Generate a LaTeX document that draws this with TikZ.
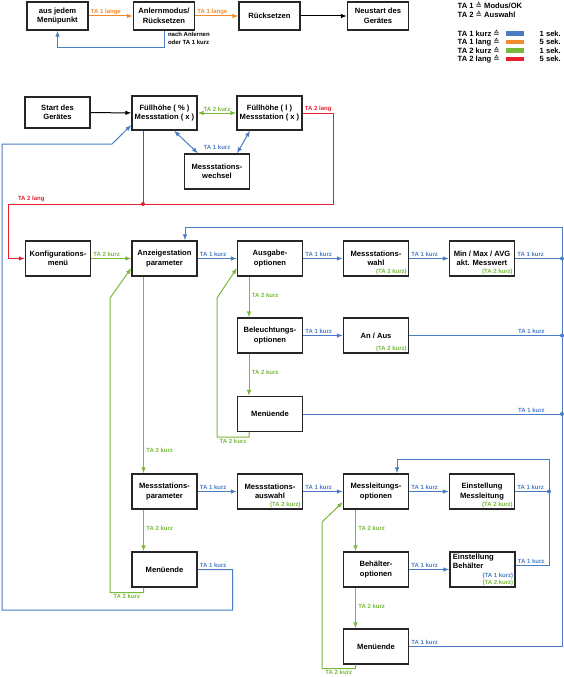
\documentclass[tikz,border=0pt]{standalone}
\usepackage{fontspec}
\setmainfont{Liberation Sans}
\newfontfamily\djv{DejaVu Sans}
\usetikzlibrary{arrows.meta,calc}
\definecolor{cblue}{HTML}{4A7CC4}
\definecolor{corange}{HTML}{F28A2E}
\definecolor{cgreen}{HTML}{78B83A}
\definecolor{cred}{HTML}{E8202E}
\tikzset{
  box/.style={draw=black!85, line width=1.2pt, minimum width=65pt, minimum height=35pt,
    align=center, inner sep=1pt, fill=white, font=\fontsize{7.6}{9.5}\selectfont\bfseries},
  topbox/.style={box, minimum width=61pt, minimum height=28pt},
  conn/.style={line width=1pt, ->},
  bl/.style={conn, color=cblue},
  blline/.style={line width=1pt, color=cblue},
  gr/.style={conn, color=cgreen},
  orl/.style={conn, color=corange},
  rdl/.style={conn, color=cred},
  rdline/.style={line width=1pt, color=cred},
  bk/.style={conn, color=black},
  lab/.style={font=\fontsize{6}{7}\selectfont\bfseries, inner sep=0.8pt},
  slab/.style={lab, pos=0, anchor=south west, xshift=1pt, yshift=0.3pt},
  elab/.style={lab, pos=1, anchor=south east, xshift=-16pt, yshift=0.3pt},
  vlab/.style={lab, pos=0.45, anchor=west, xshift=1.5pt},
  tag/.style={lab, anchor=south east, text=cgreen},
  leg/.style={font=\fontsize{7.6}{9}\selectfont\bfseries, inner sep=0pt, anchor=west},
  bar/.style={minimum width=18pt, minimum height=4.5pt, inner sep=0pt},
  dot/.style={circle, fill=cblue, inner sep=0pt, minimum size=4pt},
}
\begin{document}
\begin{tikzpicture}[x=1pt, y=-1pt, >={Latex[length=6pt,width=4.5pt]}]
\useasboundingbox (0,0) rectangle (564,677);

% ---------- top section ----------
\node[topbox] (a1) at (57.5,16) {aus jedem\\Menüpunkt};
\node[topbox] (a2) at (164,16) {Anlernmodus/\\Rücksetzen};
\node[topbox] (a3) at (269.5,16) {Rücksetzen};
\node[topbox] (a4) at (378,16) {Neustart des\\Gerätes};
\draw[orl] (a1) -- node[slab]{TA 1 lange} (a2);
\draw[orl] (a2) -- node[slab]{TA 1 lange} (a3);
\draw[bk] (a3) -- (a4);
\draw[bl] (a2.south) -- ++(0,17) -| (a1.south);
\node[lab, align=left, anchor=north west, font=\fontsize{6}{8}\selectfont\bfseries] (nach) at (167,31) {nach Anlernen\\oder TA 1 kurz};

% ---------- legend ----------
\node[leg] (L1) at (457.5,5.5) {TA 1 {\djv\mdseries ≙} Modus/OK};
\node[leg] (L2) at (457.5,14.5) {TA 2 {\djv\mdseries ≙} Auswahl};
\node[leg] (L3) at (457.5,33.5) {TA 1 kurz {\djv\mdseries ≙}};
\node[leg] (L4) at (457.5,42) {TA 1 lang {\djv\mdseries ≙}};
\node[leg] (L5) at (457.5,50.5) {TA 2 kurz {\djv\mdseries ≙}};
\node[leg] (L6) at (457.5,59) {TA 2 lang {\djv\mdseries ≙}};
\node[bar, fill=cblue] (B1) at (515,33.5) {};
\node[bar, fill=corange] (B2) at (515,42) {};
\node[bar, fill=cgreen] (B3) at (515,50.5) {};
\node[bar, fill=cred] (B4) at (515,59) {};
\node[leg] (S1) at (539.5,33.5) {1 sek.};
\node[leg] (S2) at (539.5,42) {5 sek.};
\node[leg] (S3) at (539.5,50.5) {1 sek.};
\node[leg] (S4) at (539.5,59) {5 sek.};

% ---------- second section ----------
\node[box, minimum height=31pt] (b1) at (57.5,112.5) {Start des\\Gerätes};
\node[box, minimum height=34pt] (b2) at (164.5,113) {Füllhöhe ( \% )\\Messstation ( x )};
\node[box, minimum height=34pt] (b3) at (269.5,113) {Füllhöhe ( l )\\Messstation ( x )};
\node[box] (b4) at (217,171.5) {Messstations-\\wechsel};
\draw[bk] (b1) -- (b2);
\draw[gr, <->] (b2) -- node[lab, above, yshift=0.5pt]{TA 2 kurz} (b3);
\draw[bl, <->] ($(b2.south)+(9.5,0)$) -- ($(b4.north)+(-19,0)$);
\draw[bl, <->] ($(b3.south)+(-19.5,0)$) -- ($(b4.north)+(20,0)$);
\node[lab, text=cblue] (twl) at (217,147) {TA 1 kurz};

% red TA 2 lang path
\coordinate (rj) at (143,204);
\node[box] (c1) at (58,258.5) {Konfigurations-\\menü};
\draw[rdl] (b3.east) -- node[slab]{TA 2 lang} ++(31,0) |- (8,204) |- (c1.west);
\draw[rdline] ($(b2.south)+(-21.5,0)$) -- (rj);
\fill[cred] (rj) circle (2);
\node[lab, text=cred, anchor=south west] (rl) at (17,203) {TA 2 lang};

% ---------- configuration menu ----------
\node[box] (c2) at (164.5,258.5) {Anzeigestation\\parameter};
\node[box] (c3) at (270,258.5) {Ausgabe-\\optionen};
\node[box] (c4) at (376,258.5) {Messstations-\\wahl};
\node[box] (c5) at (482,258.5) {Min / Max / AVG\\akt. Messwert};
\node[tag] (t4) at ($(c4.south east)+(-1.5,-1.2)$) {(TA 2 kurz)};
\node[tag] (t5) at ($(c5.south east)+(-1.5,-1.2)$) {(TA 2 kurz)};

\node[box] (d1) at (270,335.5) {Beleuchtungs-\\optionen};
\node[box] (d2) at (376,335.5) {An / Aus};
\node[tag] (td2) at ($(d2.south east)+(-1.5,-1.2)$) {(TA 2 kurz)};
\node[box] (d3) at (270,414) {Menüende};

\node[box] (e1) at (164.5,491.5) {Messstations-\\parameter};
\node[box] (e2) at (270,491.5) {Messstations-\\auswahl};
\node[tag] (te2) at ($(e2.south east)+(-1.5,-1.2)$) {(TA 2 kurz)};
\node[box] (e3) at (376,491.5) {Messleitungs-\\optionen};
\node[box] (e4) at (482,491.5) {Einstellung\\Messleitung};
\node[tag] (te4) at ($(e4.south east)+(-1.5,-1.2)$) {(TA 2 kurz)};

\node[box] (f1) at (164.5,569.5) {Menüende};
\node[box] (f2) at (376,569.5) {Behälter-\\optionen};
\node[box] (f3) at (482.5,569.5) {};
\node[lab, font=\fontsize{7.6}{8.8}\selectfont\bfseries, align=left, anchor=north west] (f3t) at ($(f3.north west)+(2.5,2)$) {Einstellung\\Behälter};
\node[lab, text=cblue, anchor=south east] (f3a) at ($(f3.south east)+(-1.5,-7.8)$) {(TA 1 kurz)};
\node[tag] (f3b) at ($(f3.south east)+(-1.5,-1.2)$) {(TA 2 kurz)};

\node[box] (g1) at (376,646.5) {Menüende};

% junctions
\coordinate (j1) at (562,258.5);
\coordinate (j2) at (562,335.5);
\coordinate (j3) at (562,414);
\coordinate (j4) at (549,491.5);
\coordinate (jt) at (562,227);
\coordinate (jb) at (562,646.5);

% row 1
\draw[gr] (c1) -- node[slab]{TA 2 kurz} (c2);
\draw[bl] (c2) -- node[slab]{TA 1 kurz} (c3);
\draw[bl] (c3) -- node[slab]{TA 1 kurz} (c4);
\draw[bl] (c4) -- node[slab]{TA 1 kurz} (c5);
\draw[blline] (c5) -- node[slab]{TA 1 kurz} (j1);
\draw[bl] (jb) -- (jt) -| ($(c2.north)+(20.5,0)$);

% column 3 (Ausgabe)
\draw[gr] ($(c3.south)+(-21,0)$) -- node[vlab]{TA 2 kurz} ($(d1.north)+(-21,0)$);
\draw[gr] ($(d1.south)+(-21,0)$) -- node[vlab]{TA 2 kurz} ($(d3.north)+(-21,0)$);
\draw[gr] ($(d3.south)+(-21,0)$) -- ++(0,5) -| node[lab, pos=0.25, below, yshift=-0.5pt]{TA 2 kurz} (217,298) -- ($(c3.west)+(0,9.5)$);
\draw[bl] (d1) -- node[slab]{TA 1 kurz} (d2);
\draw[blline] (d2) -- node[elab]{TA 1 kurz} (j2);
\draw[blline] (d3) -- node[elab]{TA 1 kurz} (j3);

% column 2 (Messstationsparameter)
\draw[gr] ($(c2.south)+(-21,0)$) -- node[vlab, pos=0.885]{TA 2 kurz} ($(e1.north)+(-21,0)$);
\draw[gr] ($(e1.south)+(-21,0)$) -- node[vlab]{TA 2 kurz} ($(f1.north)+(-21,0)$);
\draw[gr] ($(f1.south)+(-21,0)$) -- ++(0,5) -| node[lab, pos=0.25, below, yshift=-0.5pt]{TA 2 kurz} (110,298) -- ($(c2.west)+(0,9.5)$);
\draw[bl] (e1) -- node[slab]{TA 1 kurz} (e2);
\draw[bl] (f1.east) -- node[slab]{TA 1 kurz} ++(35,0) |- (2,610) |- (112,144) -- ($(b2.west)+(0,12)$);

% column 4 (Messleitung)
\draw[bl] (e2) -- node[slab]{TA 1 kurz} (e3);
\draw[bl] (e3) -- node[slab]{TA 1 kurz} (e4);
\draw[blline] (e4) -- node[slab]{TA 1 kurz} (j4);
\draw[bl] (j4) -- ++(0,-32.5) -| ($(e3.north)+(21,0)$);
\draw[blline] ($(f3.east)+(0,-4)$) -| node[slab]{TA 1 kurz} (j4);
\draw[bl] (f2) -- node[slab]{TA 1 kurz} (f3);
\draw[gr] ($(e3.south)+(-20.5,0)$) -- node[vlab]{TA 2 kurz} ($(f2.north)+(-20.5,0)$);
\draw[gr] ($(f2.south)+(-20.5,0)$) -- node[vlab]{TA 2 kurz} ($(g1.north)+(-20.5,0)$);
\draw[gr] ($(g1.south)+(-20.5,0)$) -- ++(0,4) -| node[lab, pos=0.25, below, yshift=-0.5pt]{TA 2 kurz} (322,522) -- ($(e3.west)+(0,10.5)$);
\draw[blline] (g1) -- node[slab]{TA 1 kurz} (jb);

% dots
\node[dot] (dj1) at (j1) {};
\node[dot] (dj2) at (j2) {};
\node[dot] (dj3) at (j3) {};
\node[dot] (dj4) at (j4) {};
\end{tikzpicture}
\end{document}
